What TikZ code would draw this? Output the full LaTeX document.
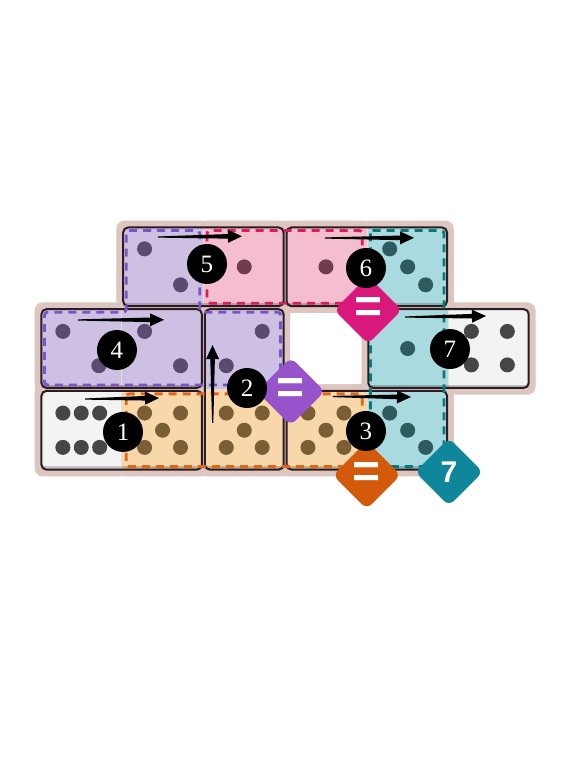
\documentclass[tikz,border=0pt]{standalone}
\usepackage{fontspec}
\usetikzlibrary{calc}
\usetikzlibrary{shapes.geometric}
\newfontfamily\numfont{Liberation Serif}
\newfontfamily\tagfont{Liberation Sans}

\definecolor{board}{HTML}{DCC6BF}
\definecolor{lilac}{HTML}{CDC0E2}
\definecolor{rose}{HTML}{F5BECF}
\definecolor{aqua}{HTML}{A9DAE0}
\definecolor{peach}{HTML}{F8D7AA}
\definecolor{chalk}{HTML}{F3F3F3}
\definecolor{lilacpip}{HTML}{5B4B70}
\definecolor{rosepip}{HTML}{6E3D50}
\definecolor{aquapip}{HTML}{2E5B60}
\definecolor{peachpip}{HTML}{7C5E36}
\definecolor{chalkpip}{HTML}{464646}
\definecolor{lilacline}{HTML}{7B55C6}
\definecolor{roseline}{HTML}{D81E5B}
\definecolor{aqualine}{HTML}{0D7775}
\definecolor{peachline}{HTML}{E0661B}
\definecolor{rosetag}{HTML}{D8197B}
\definecolor{lilactag}{HTML}{9753C9}
\definecolor{peachtag}{HTML}{D45A0B}
\definecolor{aquatag}{HTML}{10869A}
\definecolor{edge}{HTML}{2A1C22}

\tikzset{
	pad/.style={fill=board, rounded corners=8pt},
	domedge/.style={draw=edge, line width=2pt, rounded corners=5pt},
	seam/.style={black!12, line width=0.6pt},
	region/.style={line width=2.8pt, dash pattern=on 8pt off 6pt, rounded corners=3pt},
	badge/.style={diamond, aspect=1, minimum size=68pt, inner sep=0pt, rounded corners=7pt, text=white, font=\tagfont\bfseries\fontsize{30}{30}\selectfont},
	eqsign/.style={font=\tagfont\bfseries\fontsize{48}{48}\selectfont},
	movenum/.style={circle, fill=black, text=white, minimum size=40pt, inner sep=0pt, font=\numfont\fontsize{25}{25}\selectfont},
}

% col, row, left colour, right colour
\newcommand\hdomino[4]{%
	\begin{scope}
		\clip[rounded corners=5pt] ({#1+0.018},{#2+0.018}) rectangle ({#1+1.982},{#2+0.982});
		\fill[#3!80!black] (#1,#2) rectangle ({#1+1},{#2+1});
		\fill[#4!80!black] ({#1+1},#2) rectangle ({#1+2},{#2+1});
		\fill[#3] (#1,#2) rectangle ({#1+1},{#2+0.94});
		\fill[#4] ({#1+1},#2) rectangle ({#1+2},{#2+0.94});
		\draw[seam] ({#1+1},#2) -- ({#1+1},{#2+0.94});
	\end{scope}
	\draw[domedge] ({#1+0.018},{#2+0.018}) rectangle ({#1+1.982},{#2+0.982});
}
% col, row, top colour, bottom colour
\newcommand\vdomino[4]{%
	\begin{scope}
		\clip[rounded corners=5pt] ({#1+0.018},{#2+0.018}) rectangle ({#1+0.982},{#2+1.982});
		\fill[#4!80!black] (#1,{#2+1}) rectangle ({#1+1},{#2+2});
		\fill[#3] (#1,#2) rectangle ({#1+1},{#2+1});
		\fill[#4] (#1,{#2+1}) rectangle ({#1+1},{#2+1.94});
		\draw[seam] (#1,{#2+1}) -- ({#1+1},{#2+1});
	\end{scope}
	\draw[domedge] ({#1+0.018},{#2+0.018}) rectangle ({#1+0.982},{#2+1.982});
}
% name, start, end
\newcommand\movearrow[3]{%
	\coordinate (#1s) at #2;
	\coordinate (#1e) at #3;
	\coordinate (#1h) at ($(#1e)!14pt!(#1s)$);
	\fill ($(#1s)!0.6pt!90:(#1e)$) -- ($(#1h)!2.3pt!90:(#1e)$) -- ($(#1h)!6.5pt!90:(#1e)$) -- (#1e)
		-- ($(#1h)!6.5pt!-90:(#1e)$) -- ($(#1h)!2.3pt!-90:(#1e)$) -- ($(#1s)!0.6pt!-90:(#1e)$) -- cycle;
}

\begin{document}
\begin{tikzpicture}
	\fill[white] (0,0) rectangle (560pt,-767pt);
	\useasboundingbox (0,0) rectangle (560pt,-767pt);
	\begin{scope}[shift={(40pt,-226pt)}, x={(81.7pt,0)}, y={(0,-81.7pt)}]
		% board
		\foreach \c/\r in {1/0,2/0,3/0,4/0,0/1,1/1,2/1,4/1,5/1,0/2,1/2,2/2,3/2,4/2}
			\fill[pad] ({\c-0.065},{\r-0.065}) rectangle ({\c+1.065},{\r+1.065});
		\fill[white, rounded corners=6pt] (3.065,1.065) rectangle (3.935,1.935);

		% dominoes
		\hdomino{1}{0}{lilac}{rose}
		\hdomino{3}{0}{rose}{aqua}
		\hdomino{0}{1}{lilac}{lilac}
		\vdomino{2}{1}{lilac}{peach}
		\hdomino{4}{1}{aqua}{chalk}
		\hdomino{0}{2}{chalk}{peach}
		\hdomino{3}{2}{peach}{aqua}

		% pips
		\foreach \x/\y in {1.28/0.28,1.72/0.72,0.28/1.29,0.72/1.71,1.28/1.29,1.72/1.71,2.72/1.29,2.28/1.71}
			\fill[lilacpip] (\x,\y) circle (7.5pt);
		\foreach \x/\y in {2.5/0.5,3.5/0.5}
			\fill[rosepip] (\x,\y) circle (7.5pt);
		\foreach \x/\y in {4.28/0.28,4.5/0.5,4.72/0.72,4.5/1.5,4.28/2.29,4.5/2.5,4.72/2.71}
			\fill[aquapip] (\x,\y) circle (7.5pt);
		\foreach \x/\y in {5.28/1.29,5.72/1.29,5.28/1.7,5.72/1.7,0.28/2.29,0.505/2.29,0.73/2.29,0.28/2.71,0.505/2.71,0.73/2.71}
			\fill[chalkpip] (\x,\y) circle (7.5pt);
		\foreach \c in {1,2,3}
			\foreach \x/\y in {0.28/2.29,0.72/2.29,0.5/2.5,0.28/2.71,0.72/2.71}
				\fill[peachpip] ({\c+\x},\y) circle (7.5pt);

		% regions
		\draw[region, lilacline] (1.055,0.055) -- (1.955,0.055) -- (1.955,1.055) -- (2.945,1.055) -- (2.945,1.945)
			-- (0.055,1.945) -- (0.055,1.055) -- (1.055,1.055) -- cycle;
		\draw[region, roseline] (2.045,0.055) rectangle (3.945,0.945);
		\draw[region, aqualine] (4.045,0.055) rectangle (4.945,2.945);
		\draw[region, peachline] (1.055,2.055) rectangle (3.945,2.945);

		% moves
		\movearrow{a5}{(1.444,0.135)}{(2.472,0.125)}
		\movearrow{a6}{(3.488,0.147)}{(4.578,0.145)}
		\movearrow{a4}{(0.465,1.150)}{(1.518,1.148)}
		\movearrow{a7}{(4.468,1.114)}{(5.459,1.102)}
		\movearrow{a1}{(0.551,2.118)}{(1.457,2.106)}
		\movearrow{a3}{(3.586,2.087)}{(4.541,2.093)}
		\movearrow{a2}{(2.114,2.41)}{(2.112,1.457)}

		% conditions
		\node[badge, eqsign, fill=rosetag] (trose) at (4.015,1.028) {=};
		\node[badge, eqsign, fill=lilactag] (tlilac) at (3.07,2.025) {=};
		\node[badge, eqsign, fill=peachtag] (tpeach) at (4.0,3.05) {=};
		\node[badge, fill=aquatag] (taqua) at (5.006,3.01) {7};

		% order
		\node[movenum] (m1) at (1.016,2.521) {1};
		\node[movenum] (m2) at (2.534,1.983) {2};
		\node[movenum] (m3) at (3.99,2.509) {3};
		\node[movenum] (m4) at (0.942,1.518) {4};
		\node[movenum] (m5) at (2.044,0.465) {5};
		\node[movenum] (m6) at (3.99,0.514) {6};
		\node[movenum] (m7) at (5.018,1.506) {7};
	\end{scope}
\end{tikzpicture}
\end{document}
